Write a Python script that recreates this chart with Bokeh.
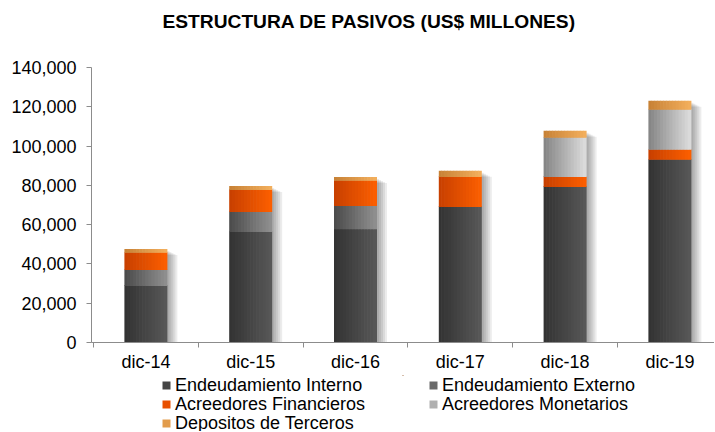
import numpy as np
from bokeh.plotting import figure
from bokeh.layouts import column
from bokeh.models import (ColumnDataSource, Range1d, LinearAxis, FixedTicker,
                          NumeralTickFormatter, Legend, LegendItem, Label)
from bokeh.embed import file_html
from bokeh.resources import INLINE

# ---------------- data ----------------
categories = ["dic-14", "dic-15", "dic-16", "dic-17", "dic-18", "dic-19"]
interno = [28800, 56200, 57700, 69000, 79200, 93000]
externo = [8100, 10200, 11800, 0, 0, 0]
financieros = [8800, 11300, 12800, 15300, 5100, 5100]
monetarios = [0, 0, 0, 0, 19900, 20400]
depositos = [1900, 2000, 2000, 3100, 3600, 4600]
series_names = ["Endeudamiento Interno", "Endeudamiento Externo",
                "Acreedores Financieros", "Acreedores Monetarios",
                "Depositos de Terceros"]
y_ticks = [0, 20000, 40000, 60000, 80000, 100000, 120000, 140000]
title_text = "ESTRUCTURA DE PASIVOS (US$ MILLONES)"

# ---------------- style ----------------
grad = [("#333333", "#575757"), ("#4c4c4c", "#8e8e8e"), ("#c84000", "#fb5e00"),
        ("#868686", "#dadada"), ("#c88236", "#f2ae5c")]
legend_colors = ["#454545", "#6a6a6a", "#e85000", "#b0b0b0", "#e29c4c"]
FONT = "Liberation Sans"
W = 714
TITLE_H = 40
BTOP, BLEFT, BBOT = 27, 91, 33
FRAME_H = 275
H = BTOP + FRAME_H + BBOT
LEG_H = 56
PX_X = 104.8                      # pixels per category
PX_Y = FRAME_H / 140000           # pixels per unit
BW = 43 / PX_X                    # bar width in data units
NSTRIP = 14
x0 = -0.5 - 2 / PX_X


def blank(height):
    f = figure(width=W, height=height, output_backend="svg", toolbar_location=None,
               x_range=Range1d(0, W - BLEFT), y_range=Range1d(0, height),
               x_axis_type=None, y_axis_type=None,
               min_border_left=BLEFT, min_border_right=0, min_border_top=0,
               min_border_bottom=0)
    f.outline_line_color = None
    f.xgrid.visible = False
    f.ygrid.visible = False
    f.background_fill_color = "white"
    f.border_fill_color = "white"
    return f


# ---------------- title figure ----------------
pt = blank(TITLE_H)
pt.add_layout(Label(x=71, y=TITLE_H - 20.5, text=title_text, text_align="left",
                    text_baseline="middle", text_font=FONT, text_font_size="19.2px",
                    text_font_style="bold", text_color="black"))

# ---------------- main figure ----------------
p = figure(width=W, height=H, output_backend="svg", toolbar_location=None,
           x_range=Range1d(x0, x0 + (W - BLEFT) / PX_X),
           y_range=Range1d(0, 140000), x_axis_type=None, y_axis_type=None,
           min_border_left=BLEFT, min_border_right=0, min_border_top=BTOP,
           min_border_bottom=BBOT)
p.outline_line_color = None
p.xgrid.visible = False
p.ygrid.visible = False
p.background_fill_color = "white"
p.border_fill_color = "white"


def hex2rgb(h):
    return np.array([int(h[i:i + 2], 16) for i in (1, 3, 5)], float)


def mix(a, b, t):
    c = hex2rgb(a) * (1 - t) + hex2rgb(b) * t
    return "#%02x%02x%02x" % tuple(int(round(v)) for v in c)


data = np.array([interno, externo, financieros, monetarios, depositos], float)
tops = np.cumsum(data, axis=0)
bottoms = tops - data
totals = tops[-1]
xs = np.arange(len(categories))

# shadows
ux = 1 / PX_X
uy = 1 / PX_Y
for j in range(1, 6):
    p.vbar(x=xs + j * 2 * ux, width=BW, top=totals - (j + 1) * uy, bottom=0,
           fill_color="black", fill_alpha=0.075, line_color=None)

ov_x = 0.6 * ux
ov_y = 0.6 * uy
for s in range(len(series_names)):
    cx, cw, cb, ct, cc = [], [], [], [], []
    for i in xs:
        if data[s, i] <= 0:
            continue
        left = i - BW / 2
        dw = BW / NSTRIP
        for k in range(NSTRIP):
            l = left + k * dw - (ov_x if k > 0 else 0)
            r = left + (k + 1) * dw
            cx.append((l + r) / 2)
            cw.append(r - l)
            cb.append(bottoms[s, i])
            ct.append(tops[s, i] + (ov_y if s < len(series_names) - 1 else 0))
            cc.append(mix(grad[s][0], grad[s][1], k / (NSTRIP - 1)))
    src = ColumnDataSource(dict(x=cx, w=cw, b=cb, t=ct, c=cc))
    p.vbar(x="x", width="w", bottom="b", top="t", fill_color="c",
           line_color=None, source=src)

# axes
yax = LinearAxis(ticker=FixedTicker(ticks=y_ticks),
                 formatter=NumeralTickFormatter(format="0,0"))
yax.axis_line_color = "#8c8c8c"
yax.major_tick_line_color = "#8c8c8c"
yax.major_tick_out = 5
yax.major_tick_in = 0
yax.minor_tick_line_color = None
yax.major_label_standoff = 10
yax.major_label_text_font = FONT
yax.major_label_text_font_size = "18px"
yax.major_label_text_color = "black"
p.add_layout(yax, "left")

xax = LinearAxis(ticker=FixedTicker(ticks=list(xs),
                                    minor_ticks=[i - 0.5 for i in range(len(categories) + 1)]),
                 major_label_overrides={int(i): c for i, c in enumerate(categories)})
xax.axis_line_color = "#8c8c8c"
xax.major_tick_out = 0
xax.major_tick_in = 0
xax.minor_tick_out = 5
xax.minor_tick_in = 0
xax.minor_tick_line_color = "#8c8c8c"
xax.major_label_standoff = 4
xax.major_label_text_font = FONT
xax.major_label_text_font_size = "18px"
xax.major_label_text_color = "black"
p.add_layout(xax, "below")

# ---------------- legend figure ----------------
p2 = blank(LEG_H)
LEG_BOX = 25
leg_pos = [(70, 8), (337, 8), (70, 27), (337, 27), (70, 46)]
for s, (lx, cy) in enumerate(leg_pos):
    # swatch renderer placed above the visible range; only shown in the legend
    rr = p2.vbar(x=[(W - BLEFT) / 2], width=1, top=[LEG_H * 20 + 1],
                 bottom=[LEG_H * 20], fill_color=legend_colors[s], line_color=None)
    lg = Legend(items=[LegendItem(label=series_names[s], renderers=[rr])],
                location=(lx, LEG_H - cy - LEG_BOX / 2),
                orientation="horizontal", padding=0, margin=0, spacing=0,
                border_line_alpha=0, background_fill_alpha=0,
                glyph_width=10, glyph_height=10, label_height=10,
                label_standoff=4, label_text_font=FONT,
                label_text_font_size="18px", label_text_color="black",
                label_text_baseline="middle")
    p2.add_layout(lg)

layout = column(pt, p, p2, spacing=0)
open("out.html", "w").write(file_html(layout, INLINE))
